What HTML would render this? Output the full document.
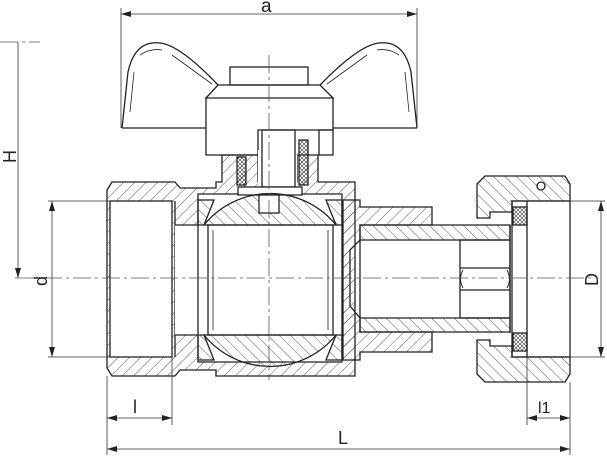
<!DOCTYPE html>
<html><head><meta charset="utf-8"><style>
html,body{margin:0;padding:0;background:#fff;}
svg{display:block;}
text{font-family:"Liberation Sans",sans-serif;fill:#222;}
</style></head><body>
<svg width="607" height="456" viewBox="0 0 607 456" xmlns="http://www.w3.org/2000/svg">
<defs>
<pattern id="h" patternUnits="userSpaceOnUse" width="8" height="8" patternTransform="rotate(45)">
<line x1="0" y1="0" x2="0" y2="8" stroke="#333" stroke-width="0.8"/></pattern>
<pattern id="h2" patternUnits="userSpaceOnUse" width="8" height="8" patternTransform="rotate(-45)">
<line x1="0" y1="0" x2="0" y2="8" stroke="#333" stroke-width="0.8"/></pattern>
<pattern id="x" patternUnits="userSpaceOnUse" width="4" height="4">
<path d="M0 0L4 4M4 0L0 4" stroke="#333" stroke-width="0.6"/></pattern>
<marker id="ar" markerWidth="10" markerHeight="6" refX="10" refY="3" orient="auto-start-reverse" markerUnits="userSpaceOnUse">
<path d="M0 0L10 3L0 6z" fill="#222"/></marker>
</defs>
<g fill="none" stroke="#222" stroke-width="1.3">
<!-- handle wings -->
<path d="M122 128 L128 72 Q135 40 160 43 Q180 45 218 85 M417 128 L411 72 Q404 40 379 43 Q359 45 320 85"/>
<path d="M122 128 H206 M333 128 H417"/>
<path d="M130 112 L134 72 M140 55 Q150 48 162 50 M172 55 L212 84" stroke-width="0.8"/>
<path d="M409 112 L405 72 M399 55 Q389 48 377 50 M367 55 L327 84" stroke-width="0.8"/>
<!-- cap -->
<rect x="230" y="67" width="78" height="18"/>
<path d="M206 98 L218 85 H320 L333 98 Z"/>
<path d="M206 98 V155 H258 V130 H333 V98"/>
<rect x="319" y="130" width="14" height="25"/>
<!-- left body -->
<path d="M107 190 L112 182 H175 L180 188 H216 V182 H222 V155 H258 V182 H297 V155 H318 V182 H355 V376 H216 V370 H180 L175 376 H112 L107 368 Z" fill="url(#h)"/>
<rect x="110" y="201" width="62" height="156" fill="#fff"/>
<line x1="175" y1="201" x2="175" y2="357"/>
<rect x="175" y="225" width="25" height="110" fill="#fff" stroke="none"/>
<path d="M175 225 H200 M175 335 H200"/>
<path d="M198 194 H342 V362 H198 Z" fill="#fff"/>
<rect x="258" y="150" width="39" height="46" fill="#fff" stroke="none"/>
<rect x="262" y="130" width="33" height="57"/>
<rect x="237" y="157" width="9" height="28" fill="url(#x)"/>
<rect x="299" y="140" width="9" height="45" fill="url(#x)"/>
<rect x="238" y="187" width="64" height="8" fill="#fff"/>
<!-- seats -->
<path d="M198 200 H214 L204 225 H198 Z M198 360 H214 L204 335 H198 Z" fill="url(#h2)"/>
<path d="M342 200 H326 L336 225 H342 Z M342 360 H326 L336 335 H342 Z" fill="url(#h2)"/>
<!-- ball -->
<path d="M204 225 A85 85 0 0 1 336 225 Z" fill="url(#h2)"/>
<path d="M204 335 A85 85 0 0 0 336 335 Z" fill="url(#h2)"/>
<rect x="208" y="225" width="125" height="110"/>
<line x1="213" y1="230" x2="213" y2="330" stroke-width="0.8"/>
<line x1="328" y1="230" x2="328" y2="330" stroke-width="0.8"/>
<rect x="259" y="195" width="20" height="18" fill="#fff"/>
<!-- right union -->
<path d="M343 200 H360 V207 H432 V225 H360 V240 L350 250 V306 L360 318 V332 H432 V352 H360 V360 H343 Z" fill="url(#h)"/>
<path d="M360 225 H510 V240 H360 Z M360 318 H510 V332 H360 Z" fill="url(#h2)"/>
<line x1="360" y1="240" x2="360" y2="318"/>
<rect x="460" y="240" width="50" height="78"/>
<path d="M460 268 H510 M460 290 H510"/>
<path d="M463 270 Q458 279 463 288 M507 270 Q512 279 507 288" stroke-width="0.9"/>
<!-- nut -->
<path d="M477 184 L485 176 H565 L570 184 V201 H512 V212 H490 V218 H477 Z" fill="url(#h2)"/>
<path d="M477 374 L485 382 H565 L570 374 V357 H512 V346 H490 V340 H477 Z" fill="url(#h2)"/>
<circle cx="541" cy="186" r="4" fill="#fff"/>
<rect x="512" y="201" width="58" height="156"/>
<rect x="513" y="207" width="14" height="18" fill="url(#x)"/>
<rect x="513" y="333" width="14" height="18" fill="url(#x)"/>
<line x1="527" y1="201" x2="527" y2="357"/>
<line x1="510" y1="225" x2="510" y2="333"/>
</g>
<!-- centre lines -->
<g stroke="#555" stroke-width="0.8" stroke-dasharray="18 4 3 4" fill="none">
<line x1="15" y1="278" x2="595" y2="278"/>
<line x1="269" y1="55" x2="269" y2="380"/>
<line x1="0" y1="42" x2="40" y2="42"/>
</g>
<!-- dimensions -->
<g stroke="#333" stroke-width="0.8" fill="none">
<line x1="121" y1="8" x2="121" y2="128"/>
<line x1="417" y1="8" x2="417" y2="128"/>
<line x1="121" y1="14" x2="417" y2="14" marker-start="url(#ar)" marker-end="url(#ar)"/>
<line x1="18" y1="42" x2="18" y2="278" marker-end="url(#ar)"/>
<line x1="48" y1="201" x2="110" y2="201"/>
<line x1="48" y1="357" x2="110" y2="357"/>
<line x1="52" y1="201" x2="52" y2="357" marker-start="url(#ar)" marker-end="url(#ar)"/>
<line x1="510" y1="201" x2="605" y2="201"/>
<line x1="510" y1="357" x2="605" y2="357"/>
<line x1="601" y1="201" x2="601" y2="357" marker-start="url(#ar)" marker-end="url(#ar)"/>
<line x1="107" y1="376" x2="107" y2="455"/>
<line x1="172" y1="357" x2="172" y2="425"/>
<line x1="107" y1="418" x2="172" y2="418" marker-start="url(#ar)" marker-end="url(#ar)"/>
<line x1="527" y1="357" x2="527" y2="425"/>
<line x1="570" y1="382" x2="570" y2="455"/>
<line x1="527" y1="418" x2="570" y2="418" marker-start="url(#ar)" marker-end="url(#ar)"/>
<line x1="107" y1="449" x2="570" y2="449" marker-start="url(#ar)" marker-end="url(#ar)"/>
</g>
<text x="261" y="12" font-size="19">a</text>
<text x="338" y="444" font-size="18">L</text>
<text x="133" y="413" font-size="18">l</text>
<text x="538" y="413" font-size="16">l1</text>
<text transform="translate(16,163) rotate(-90)" font-size="18">H</text>
<text transform="translate(47,286) rotate(-90)" font-size="18">d</text>
<text transform="translate(598,286) rotate(-90)" font-size="18">D</text>
</svg>
</body></html>
